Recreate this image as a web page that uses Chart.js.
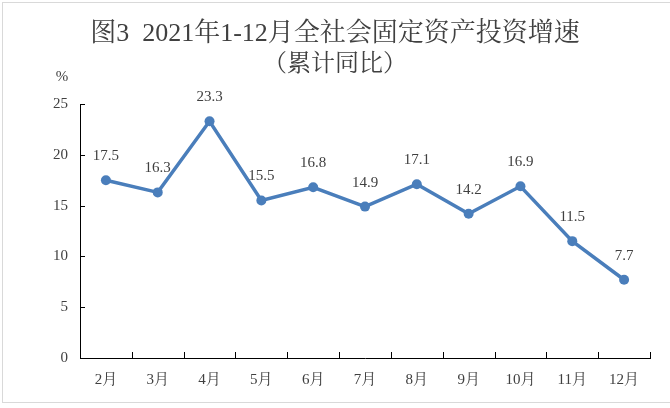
<!DOCTYPE html>
<html>
<head>
<meta charset="utf-8">
<script src="https://cdn.jsdelivr.net/npm/chart.js@4"></script>
<style>
html,body{margin:0;padding:0;background:#fff;overflow:hidden;}
#wrap{position:relative;width:670px;height:408px;}
#frame{position:absolute;left:2px;top:2px;width:700px;height:401px;border:1px solid #d9d9d9;box-sizing:border-box;pointer-events:none;}
canvas{position:absolute;left:0;top:0;}
</style>
</head>
<body>
<div id="wrap"><canvas id="c" width="670" height="408"></canvas><div id="frame"></div></div>
<script>
const categories = ['2月','3月','4月','5月','6月','7月','8月','9月','10月','11月','12月'];
const growth = [17.5, 16.3, 23.3, 15.5, 16.8, 14.9, 17.1, 14.2, 16.9, 11.5, 7.7];
const yTicks = [0, 5, 10, 15, 20, 25];
const titleText = '图3  2021年1-12月全社会固定资产投资增速';
const subtitleText = '（累计同比）';
const unitLabel = '%';

const FONT = "'Liberation Serif', 'Noto Serif CJK SC', 'Noto Sans CJK SC', serif";
const TEXT = '#404040';

const extras = {
  id: 'extras',
  afterDraw(chart) {
    const ctx = chart.ctx;
    const y = chart.scales.y;
    const a = chart.chartArea;
    ctx.save();
    ctx.strokeStyle = '#000';
    ctx.lineWidth = 1;
    yTicks.forEach(v => {
      if (v === 0) return;
      const py = Math.round(y.getPixelForValue(v)) + 0.5;
      ctx.beginPath();
      ctx.moveTo(a.left, py);
      ctx.lineTo(a.left + 5, py);
      ctx.stroke();
    });
    const n = categories.length;
    for (let i = 0; i <= n; i++) {
      const px = Math.round(a.left + i * (a.right - a.left) / n) + 0.5;
      ctx.beginPath();
      ctx.moveTo(px, a.bottom);
      ctx.lineTo(px, a.bottom - 6);
      ctx.stroke();
    }
    ctx.fillStyle = TEXT;
    ctx.font = '15px ' + FONT;
    ctx.textAlign = 'center';
    ctx.textBaseline = 'middle';
    ctx.fillText(unitLabel, a.left - 18, a.top - 27);
    const meta = chart.getDatasetMeta(0);
    meta.data.forEach((pt, i) => {
      ctx.fillText(growth[i].toFixed(1), pt.x, pt.y - 24);
    });
    ctx.restore();
  }
};

new Chart(document.getElementById('c'), {
  type: 'line',
  data: {
    labels: categories,
    datasets: [{
      data: growth,
      borderColor: '#4a7ebb',
      backgroundColor: '#4a7ebb',
      borderWidth: 3.5,
      pointRadius: 5,
      pointHoverRadius: 5,
      pointBackgroundColor: '#4a7ebb',
      pointBorderWidth: 0,
      tension: 0,
      clip: false
    }]
  },
  options: {
    responsive: false,
    animation: false,
    devicePixelRatio: 1,
    layout: { padding: { left: 20, right: 20, top: 0, bottom: 0 } },
    plugins: {
      legend: { display: false },
      tooltip: { enabled: false },
      title: {
        display: true,
        text: titleText,
        color: TEXT,
        font: { family: FONT, size: 26, weight: 'normal', lineHeight: 1.2 },
        padding: { top: 19, bottom: 0 }
      },
      subtitle: {
        display: true,
        text: subtitleText,
        color: TEXT,
        font: { family: FONT, size: 24, weight: 'normal', lineHeight: 1.2 },
        padding: { top: 0.4, bottom: 24.6 }
      }
    },
    scales: {
      x: {
        offset: true,
        grid: { display: false, drawTicks: false },
        border: { display: true, color: '#000', width: 1 },
        ticks: { color: TEXT, font: { family: FONT, size: 15 }, padding: 13, maxRotation: 0 },
        afterFit(s) { s.height = 50; }
      },
      y: {
        min: 0, max: 25,
        grid: { display: false, drawTicks: false },
        border: { display: true, color: '#000', width: 1 },
        ticks: { stepSize: 5, color: TEXT, font: { family: FONT, size: 15 }, padding: 12 },
        afterFit(s) { s.width = 60; }
      }
    }
  },
  plugins: [extras]
});
</script>
</body>
</html>
